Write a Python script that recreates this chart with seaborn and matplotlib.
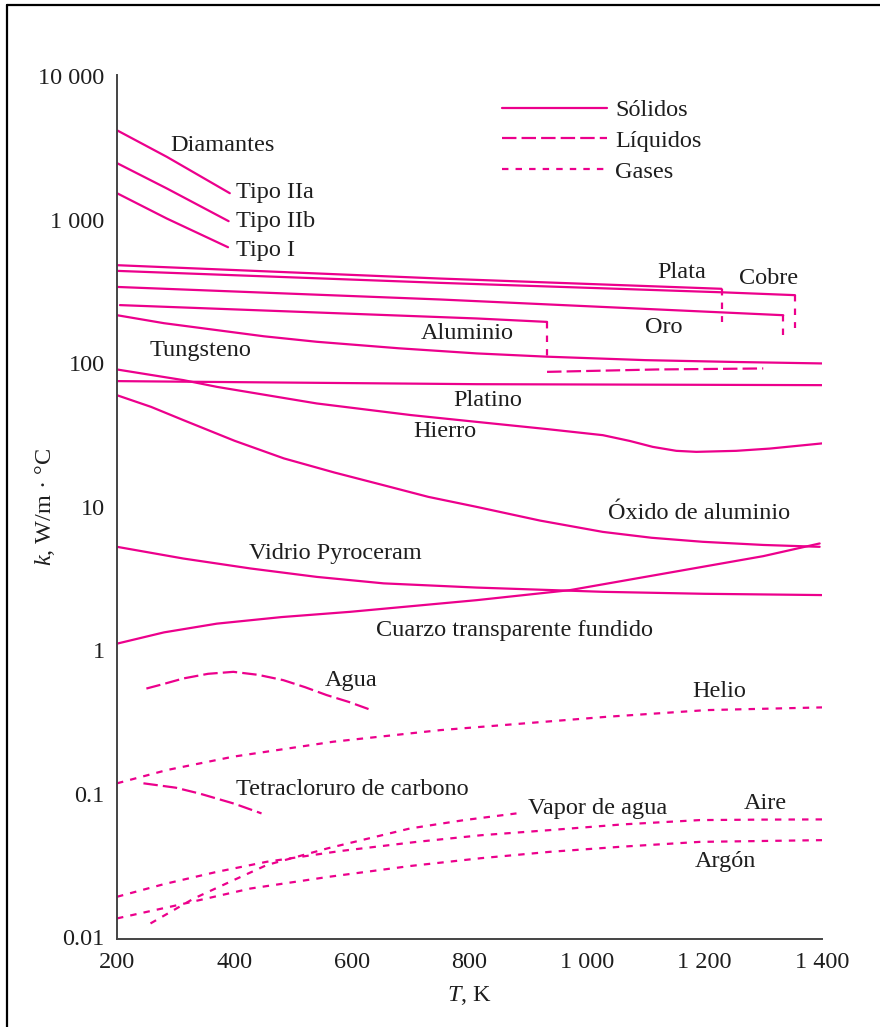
import matplotlib
matplotlib.use("Agg")
import matplotlib.pyplot as plt
from matplotlib.lines import Line2D
from matplotlib.ticker import NullLocator
import pandas as pd
import seaborn as sns

# ---- data (T in K, k in W/m.C) ----
DIA_IIA_T = [200, 285, 392]
DIA_IIA_K = [4200, 2740, 1530]
DIA_IIB_T = [200, 285, 390]
DIA_IIB_K = [2480, 1650, 977]
DIA_I_T = [200, 285, 389]
DIA_I_K = [1530, 1018, 643]

SILVER_T = [200, 750, 1229]
SILVER_K = [482, 389, 330]
COPPER_T = [200, 750, 1229, 1354]
COPPER_K = [440, 363, 312, 298]
GOLD_T = [200, 750, 1334]
GOLD_K = [340, 278, 216]
ALU_T = [205, 812, 932]
ALU_K = [254, 205, 194]
ALU_LIQ_T = [932, 1118, 1300]
ALU_LIQ_K = [87, 90.4, 91.9]

# melting steps (T, k above, k below)
MELT_T = [1229, 1354, 1334, 932]
MELT_K_TOP = [330, 298, 216, 194]
MELT_K_BOT = [194, 175, 157, 111]

TUNG_T = [200, 280, 370, 450, 540, 680, 812, 932, 1100, 1250, 1400]
TUNG_K = [216, 190, 170, 154, 141, 127, 117, 111, 105, 102, 99.6]
PLAT_T = [200, 812, 1400]
PLAT_K = [75, 71.4, 70.3]
IRON_T = [200, 313, 370, 540, 700, 812, 930, 1027, 1073, 1112, 1152, 1186, 1254, 1311, 1400]
IRON_K = [90.4, 76.2, 68.4, 52.4, 43.5, 39.0, 34.8, 31.5, 28.7, 26.1, 24.5, 24.1, 24.5, 25.4, 27.6]
OXIDE_T = [200, 258, 313, 400, 484, 570, 654, 730, 812, 920, 1027, 1110, 1197, 1300, 1396]
OXIDE_K = [59.8, 49.6, 40.1, 28.8, 21.7, 17.3, 14.1, 11.7, 9.97, 8.0, 6.67, 6.07, 5.69, 5.41, 5.25]
PYRO_T = [200, 313, 427, 540, 654, 812, 1027, 1200, 1400]
PYRO_K = [5.25, 4.35, 3.71, 3.24, 2.92, 2.73, 2.55, 2.47, 2.42]
QUARTZ_T = [200, 280, 370, 480, 597, 812, 971, 1084, 1197, 1300, 1396]
QUARTZ_K = [1.11, 1.33, 1.53, 1.70, 1.85, 2.23, 2.62, 3.16, 3.81, 4.52, 5.54]

WATER_T = [250, 280, 313, 355, 398, 440, 483, 520, 557, 595, 630]
WATER_K = [0.54, 0.582, 0.635, 0.684, 0.706, 0.673, 0.618, 0.552, 0.486, 0.435, 0.386]
CCL4_T = [245, 300, 341, 400, 446]
CCL4_K = [0.118, 0.110, 0.100, 0.085, 0.0728]

HELIUM_T = [200, 285, 398, 568, 750, 1033, 1203, 1400]
HELIUM_K = [0.118, 0.146, 0.181, 0.230, 0.277, 0.343, 0.382, 0.399]
STEAM_T = [257, 331, 399, 455, 560, 699, 790, 880]
STEAM_K = [0.01245, 0.0186, 0.0250, 0.0318, 0.0417, 0.0572, 0.0653, 0.0728]
AIR_T = [200, 280, 370, 455, 580, 710, 820, 937, 1060, 1192, 1300, 1400]
AIR_K = [0.0191, 0.0234, 0.0285, 0.0335, 0.0398, 0.0461, 0.0513, 0.0557, 0.061, 0.0654, 0.0659, 0.0661]
ARGON_T = [200, 300, 427, 560, 699, 820, 937, 1060, 1192, 1400]
ARGON_K = [0.0135, 0.0166, 0.0218, 0.0263, 0.0313, 0.0355, 0.0393, 0.0427, 0.0461, 0.0474]

X_TICKS = [200, 400, 600, 800, 1000, 1200, 1400]
X_TICK_LABELS = ["200", "400", "600", "800", "1 000", "1 200", "1 400"]
Y_TICKS = [0.01, 0.1, 1, 10, 100, 1000, 10000]
Y_TICK_LABELS = ["0.01", "0.1", "1", "10", "100", "1 000", "10 000"]

LABELS = [
    ("Diamantes", 290, 3304), ("Tipo IIa", 402, 1555), ("Tipo IIb", 402, 977),
    ("Tipo I", 402, 613), ("Tungsteno", 256, 123), ("Aluminio", 717, 162),
    ("Plata", 1120, 431), ("Cobre", 1258, 391), ("Oro", 1098, 178),
    ("Platino", 772, 55.2), ("Hierro", 704, 33.2), ("Óxido de aluminio", 1035, 9.01),
    ("Vidrio Pyroceram", 424, 4.72), ("Cuarzo transparente fundido", 640, 1.38),
    ("Agua", 554, 0.618), ("Helio", 1180, 0.512), ("Tetracloruro de carbono", 402, 0.1075),
    ("Vapor de agua", 900, 0.0788), ("Aire", 1266, 0.0854), ("Argón", 1183, 0.0335),
]

PINK = "#EC008C"
LW = 1.6
SOLID = "-"
LIQUID = (0, (6.5, 2.3))
GAS = (0, (2.9, 3.2))
TXT = "#1e1e1e"

sns.set_theme(style="white")
plt.rcParams["font.family"] = ["Liberation Serif", "DejaVu Serif"]
plt.rcParams["mathtext.fontset"] = "custom"
plt.rcParams["mathtext.rm"] = "Liberation Serif"
plt.rcParams["mathtext.it"] = "Liberation Serif:italic"
FS = 17.5

fig = plt.figure(figsize=(8.8, 10.27), dpi=100)
ax = fig.add_axes([117 / 880, 1 - 939 / 1027, 705 / 880, 864 / 1027])


def draw(t, k, style):
    df = pd.DataFrame({"T": t, "k": k})
    sns.lineplot(data=df, x="T", y="k", ax=ax, color=PINK, lw=LW, linestyle=style,
                 estimator=None, sort=False, legend=False)


for t, k in [(DIA_IIA_T, DIA_IIA_K), (DIA_IIB_T, DIA_IIB_K), (DIA_I_T, DIA_I_K),
             (SILVER_T, SILVER_K), (COPPER_T, COPPER_K), (GOLD_T, GOLD_K),
             (ALU_T, ALU_K), (TUNG_T, TUNG_K), (PLAT_T, PLAT_K), (IRON_T, IRON_K),
             (OXIDE_T, OXIDE_K), (PYRO_T, PYRO_K), (QUARTZ_T, QUARTZ_K)]:
    draw(t, k, SOLID)

for t, k in [(ALU_LIQ_T, ALU_LIQ_K), (WATER_T, WATER_K), (CCL4_T, CCL4_K)]:
    draw(t, k, LIQUID)

for t, k in [(HELIUM_T, HELIUM_K), (STEAM_T, STEAM_K), (AIR_T, AIR_K), (ARGON_T, ARGON_K)]:
    draw(t, k, GAS)

for t, top, bot in zip(MELT_T, MELT_K_TOP, MELT_K_BOT):
    draw([t, t], [top, bot], GAS)

ax.set_yscale("log")
ax.set_xlim(200, 1400)
ax.set_ylim(0.0097, 10200)
ax.set_xticks(X_TICKS)
ax.set_xticklabels(X_TICK_LABELS, fontsize=FS)
ax.set_yticks(Y_TICKS)
ax.set_yticklabels(Y_TICK_LABELS, fontsize=FS)
ax.yaxis.set_minor_locator(NullLocator())
ax.tick_params(length=0, pad=9, colors=TXT)
ax.grid(False)
for side in ["top", "right"]:
    ax.spines[side].set_visible(False)
for side in ["left", "bottom"]:
    ax.spines[side].set_color("#444444")
    ax.spines[side].set_linewidth(1.4)

ax.set_xlabel("$T$, K", fontsize=FS, color=TXT, labelpad=8)
ax.set_ylabel("$k$, W/m · °C", fontsize=FS, color=TXT)
ax.yaxis.set_label_coords(-0.085, 0.5)

for txt, t, k in LABELS:
    ax.text(t, k, txt, fontsize=FS, color=TXT, ha="left", va="center")

handles = [Line2D([], [], color=PINK, lw=LW, linestyle=s) for s in (SOLID, LIQUID, GAS)]
ax.legend(handles, ["Sólidos", "Líquidos", "Gases"], loc="upper left",
          bbox_to_anchor=(502 / 880, 1 - 99 / 1027), bbox_transform=fig.transFigure,
          frameon=False, borderpad=0, borderaxespad=0, handlelength=4.3,
          handletextpad=0.35, labelspacing=0.36, fontsize=FS, labelcolor=TXT)

# outer frame of the original figure
fig.add_artist(Line2D([7 / 880, 7 / 880], [0, 1 - 5 / 1027], color="black", lw=1.6,
                      transform=fig.transFigure))
fig.add_artist(Line2D([7 / 880, 1], [1 - 5 / 1027, 1 - 5 / 1027], color="black", lw=1.6,
                      transform=fig.transFigure))

fig.savefig("out.png", dpi=100)
